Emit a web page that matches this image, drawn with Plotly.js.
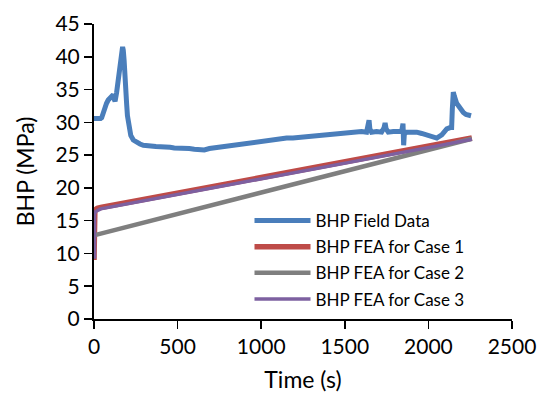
<!DOCTYPE html>
<html>
<head>
<meta charset="utf-8">
<script src="https://cdn.plot.ly/plotly-3.0.1.min.js"></script>
<style>html,body{margin:0;padding:0;background:#fff;}#chart{width:539px;height:396px;}</style>
</head>
<body>
<div id="chart"></div>
<script>
// Field data (time s, BHP MPa)
const fieldTime = [0,10,20,30,40,46,55,65,75,85,96,105,115,120,126,135,145,155,165,171,175,180,185,190,195,200,205,211,220,235,255,275,295,315,340,370,400,430,455,480,510,540,570,600,634,660,690,720,754,790,830,870,910,953,990,1030,1070,1110,1152,1190,1232,1270,1310,1350,1371,1410,1450,1490,1530,1571,1600,1630,1640,1645,1650,1660,1690,1720,1735,1741,1747,1760,1790,1820,1840,1848,1850,1852,1856,1870,1900,1930,1960,1990,2020,2050,2080,2110,2130,2139,2143,2149,2155,2169,2190,2209,2225,2239,2255];
const fieldBHP = [30.6,30.6,30.5,30.6,30.6,30.7,31.5,32.3,32.9,33.4,33.7,33.9,34.2,33.6,33.2,34.5,36.2,38.0,40.0,41.5,41.0,39.5,38.0,35.5,32.9,31.0,29.8,28.8,28.0,27.3,26.9,26.7,26.5,26.5,26.4,26.3,26.3,26.2,26.2,26.1,26.1,26.0,26.0,25.9,25.9,25.8,26.0,26.1,26.2,26.4,26.5,26.7,26.8,27.0,27.1,27.2,27.3,27.4,27.6,27.6,27.7,27.8,28.0,28.1,28.2,28.3,28.4,28.4,28.6,28.6,28.6,28.5,29.3,30.3,29.0,28.5,28.6,28.5,29.2,29.9,29.0,28.5,28.6,28.5,28.6,29.8,28.0,26.5,28.2,28.5,28.5,28.5,28.3,28.1,27.9,27.6,28.1,29.0,29.2,29.2,32.0,34.6,34.0,32.9,32.0,31.5,31.2,31.1,31.0];
// FEA Case 1
const case1Time = [0,0,5,20,40,2260];
const case1BHP  = [9.0,16.3,16.6,16.9,17.0,27.6];
// FEA Case 2
const case2Time = [5,2260];
const case2BHP  = [12.8,27.5];
// FEA Case 3
const case3Time = [3,3,10,40,2260];
const case3BHP  = [9.2,16.0,16.4,16.8,27.4];

const names = ['BHP Field Data','BHP FEA for Case 1','BHP FEA for Case 2','BHP FEA for Case 3'];

const traces = [
  {x: fieldTime, y: fieldBHP, name: names[0], legendgroup: 'a', mode: 'lines', line: {color: '#4A7EBB', width: 5}},
  {x: case1Time, y: case1BHP, name: names[1], legendgroup: 'b', mode: 'lines', line: {color: '#BE4B48', width: 5.5}},
  {x: case2Time, y: case2BHP, name: names[2], legendgroup: 'c', mode: 'lines', line: {color: '#7F7F7F', width: 4.5}},
  {x: case3Time, y: case3BHP, name: names[3], legendgroup: 'd', mode: 'lines', line: {color: '#7D60A0', width: 3.5}}
];

const font = 'Lato, "Open Sans", sans-serif';
const layout = {
  width: 539, height: 396,
  margin: {l: 94, r: 27, t: 24, b: 77},
  paper_bgcolor: '#fff', plot_bgcolor: '#fff',
  font: {family: font, color: '#000', size: 21},
  showlegend: true,
  legend: {x: 0.372, y: 0.393, xanchor: 'left', yanchor: 'top', bgcolor: 'rgba(0,0,0,0)',
           font: {family: font, size: 17, color: '#000'}, itemwidth: 56, tracegroupgap: 1},
  xaxis: {range: [0, 2500], dtick: 500, tick0: 0, showgrid: false, zeroline: false,
          showline: true, linecolor: '#000', linewidth: 2, ticks: 'outside', ticklen: 8,
          tickwidth: 1.5, tickcolor: '#000', tickfont: {size: 21},
          title: {text: 'Time (s)', font: {size: 23}, standoff: 15}},
  yaxis: {range: [0, 45], dtick: 5, tick0: 0, showgrid: false, zeroline: false,
          showline: true, linecolor: '#000', linewidth: 2, ticks: 'outside', ticklen: 8,
          tickwidth: 1.5, tickcolor: '#000', tickfont: {size: 21},
          title: {text: 'BHP (MPa)', font: {size: 23}, standoff: 14}}
};

Plotly.newPlot('chart', traces, layout, {displayModeBar: false, staticPlot: true});
</script>
</body>
</html>
